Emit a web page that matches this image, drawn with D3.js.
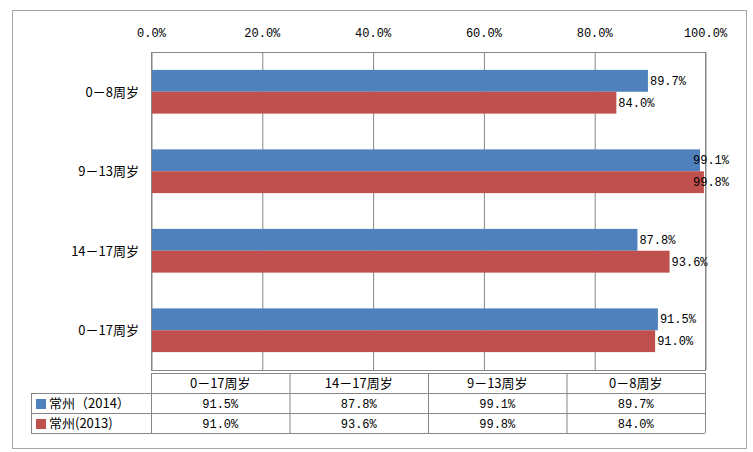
<!DOCTYPE html>
<html><head><meta charset="utf-8">
<script src="https://cdn.jsdelivr.net/npm/d3@7/dist/d3.min.js"></script>
<style>
body{margin:0;background:#fff;}
text{font-family:"Liberation Mono","Noto Sans CJK SC",monospace;font-size:12px;fill:#000;}
text.cjk{font-family:"Noto Sans CJK SC",sans-serif;font-size:13px;}
</style></head><body>
<svg id="c" width="753" height="452"></svg>
<script>
const categories = ["0－8周岁","9－13周岁","14－17周岁","0－17周岁"];
const seriesNames = ["常州（2014）","常州(2013)"];
const values2014 = [89.7, 99.1, 87.8, 91.5];
const values2013 = [84.0, 99.8, 93.6, 91.0];
const colors = ["#4F81BD","#C0504D"];
const xTicks = [0,20,40,60,80,100];

const svg = d3.select("#c");
const L=151, R=705, T=52, B=370;
svg.append("rect").attr("x",12.5).attr("y",10.5).attr("width",734).attr("height",438)
  .attr("fill","#fff").attr("stroke","#a6a6a6");

const x = d3.scaleLinear().domain([0,100]).range([L,R]);
const y = d3.scaleBand().domain(categories).range([T,B]).paddingInner(0.45).paddingOuter(0.225);
const ySub = d3.scaleBand().domain([0,1]).range([0,y.bandwidth()]);

svg.append("rect").attr("x",L+0.5).attr("y",T+0.5).attr("width",R-L).attr("height",B-T)
  .attr("fill","none").attr("stroke","#868686");
const ax = d3.axisTop(x).tickValues(xTicks).tickSize(-(B-T)).tickFormat(d=>d3.format(".1f")(d)+"%");
const g = svg.append("g").attr("transform",`translate(0,${T})`).call(ax);
g.select(".domain").remove();
g.selectAll(".tick line").attr("stroke","#868686").attr("transform","translate(0.5,0)");
g.selectAll(".tick text").attr("dy",0).attr("y",-15).style("font-family",'"Liberation Mono",monospace').style("font-size","12px");

const series = [values2014, values2013];
series.forEach((vals,si)=>{
  svg.append("g").selectAll("rect").data(categories).join("rect")
    .attr("x",x(0)+1).attr("y",(d)=>y(d)+ySub(si))
    .attr("width",(d,i)=>x(vals[i])-x(0)-1).attr("height",ySub.bandwidth())
    .attr("fill",colors[si]);
  svg.append("g").selectAll("text").data(categories).join("text")
    .attr("x",(d,i)=>Math.min(x(vals[i])+2, R-12))
    .attr("y",(d)=>y(d)+ySub(si)+ySub.bandwidth()/2+4)
    .text((d,i)=>d3.format(".1f")(vals[i])+"%");
});

svg.append("g").selectAll("text").data(categories).join("text").attr("class","cjk")
  .attr("x",L-12).attr("y",d=>y(d)+y.bandwidth()/2+5).attr("text-anchor","end").text(d=>d);

const tblCats = categories.slice().reverse();
const tx = d3.scaleBand().domain(tblCats).range([L,R]);
const rowTop = 373, rowH = 20, legendL = 31;
const tg = svg.append("g").attr("stroke","#868686").attr("fill","none");
tg.append("line").attr("x1",L).attr("x2",R).attr("y1",rowTop+0.5).attr("y2",rowTop+0.5);
[1,2,3].forEach(k=>tg.append("line").attr("x1",legendL).attr("x2",R).attr("y1",rowTop+k*rowH+0.5).attr("y2",rowTop+k*rowH+0.5));
tg.append("line").attr("x1",legendL+0.5).attr("x2",legendL+0.5).attr("y1",rowTop+rowH).attr("y2",rowTop+3*rowH);
[...tblCats.map(c=>tx(c)), R].forEach(px=>{
  tg.append("line").attr("x1",px+0.5).attr("x2",px+0.5).attr("y1",rowTop).attr("y2",rowTop+3*rowH);
});
svg.append("g").selectAll("text").data(tblCats).join("text").attr("class","cjk")
  .attr("x",d=>tx(d)+tx.bandwidth()/2).attr("y",rowTop+rowH/2+5).attr("text-anchor","middle").text(d=>d);
series.forEach((vals,si)=>{
  const ry = rowTop+rowH*(si+1);
  svg.append("rect").attr("x",legendL+5).attr("y",ry+6).attr("width",10).attr("height",10).attr("fill",colors[si]);
  svg.append("text").attr("class","cjk").attr("x",legendL+18).attr("y",ry+rowH/2+5).text(seriesNames[si]);
  svg.append("g").selectAll("text").data(tblCats).join("text")
    .attr("x",d=>tx(d)+tx.bandwidth()/2).attr("y",ry+rowH/2+5).attr("text-anchor","middle")
    .text(d=>d3.format(".1f")(vals[categories.indexOf(d)])+"%");
});
</script></body></html>
